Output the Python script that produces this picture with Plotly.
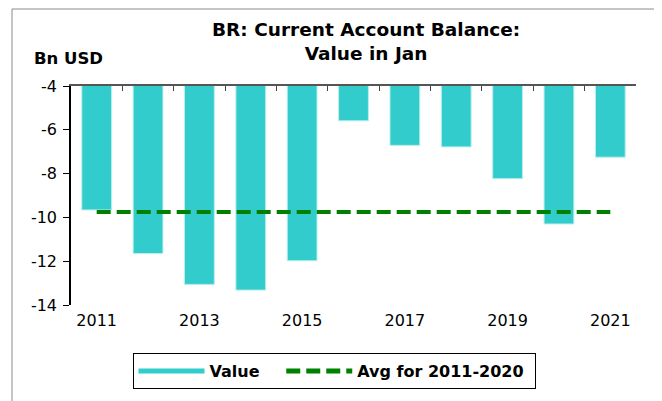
import plotly.graph_objects as go

years = [2011, 2012, 2013, 2014, 2015, 2016, 2017, 2018, 2019, 2020, 2021]
values = [-9.66, -11.65, -13.06, -13.32, -11.98, -5.59, -6.71, -6.78, -8.23, -10.30, -7.25]
avg_value = -9.75
avg_years = [2011, 2021]
avg_line = [avg_value, avg_value]
x_tick_labels = [2011, 2013, 2015, 2017, 2019, 2021]
y_ticks = [-14, -12, -10, -8, -6, -4]

TEAL = "#33CCCC"
GREEN = "#008000"
FONT = "DejaVu Sans, Arial, sans-serif"

OFF = 8  # page body margin offset
W, H = 662 - OFF, 401 - OFF
L = 71 - OFF
T = 86 - OFF
R = W - (636 - OFF)
B = H - (305 - OFF)
pw, ph = W - L - R, H - T - B


def px(x):
    return (x - OFF - L) / pw


def py(y):
    return (H - B - (y - OFF)) / ph


fig = go.Figure()

fig.add_trace(go.Bar(
    x=years, y=values, width=0.58,
    marker=dict(color=TEAL, line=dict(color="#B8EEEE", width=1)),
    showlegend=False, xaxis="x", yaxis="y",
))

# legend proxy for bars
fig.add_trace(go.Scatter(
    x=[None], y=[None], mode="lines", name="Value\u00a0\u00a0\u00a0",
    line=dict(color=TEAL, width=8), xaxis="x", yaxis="y",
))

fig.add_trace(go.Scatter(
    x=avg_years, y=avg_line, mode="lines", name="Avg for 2011-2020\u00a0",
    line=dict(color=GREEN, width=4, dash="14px,6px"),
    xaxis="x2", yaxis="y",
))

fig.update_layout(
    width=W, height=H,
    margin=dict(l=L, r=R, t=T, b=B),
    paper_bgcolor="white", plot_bgcolor="white",
    font=dict(family=FONT, size=16, color="black"),
    xaxis=dict(
        range=[2010.5, 2021.5], tickvals=x_tick_labels,
        ticktext=[str(v) for v in x_tick_labels],
        showline=False, ticks="", showgrid=False, zeroline=False,
        tickfont=dict(size=16), ticklabelstandoff=4,
    ),
    xaxis2=dict(
        range=[2010.5, 2021.5], overlaying="x", side="top",
        tickvals=[y + 0.5 for y in years[:-1]] + [2021.5],
        showticklabels=False, ticks="inside", ticklen=5,
        tickcolor="#444", showline=True, linecolor="#555", linewidth=1.5,
        showgrid=False, zeroline=False,
    ),
    yaxis=dict(
        range=[-14, -4], tickvals=y_ticks,
        ticktext=[str(v) for v in y_ticks],
        showline=True, linecolor="black", linewidth=1.5,
        ticks="outside", ticklen=6, tickcolor="black",
        showgrid=False, zeroline=False,
        tickfont=dict(size=16), ticklabelstandoff=3,
    ),
    legend=dict(
        orientation="h", x=px(334), y=py(371),
        xanchor="center", yanchor="middle",
        bordercolor="black", borderwidth=1,
        font=dict(size=16, family=FONT, weight="bold"),
        itemwidth=66, itemsizing="constant",
    ),
    annotations=[
        dict(text="<b>BR: Current Account Balance:<br>Value in Jan</b>",
             xref="paper", yref="paper", x=px(366), y=py(41),
             xanchor="center", yanchor="middle", showarrow=False,
             font=dict(size=18.5, family=FONT)),
        dict(text="<b>Bn USD</b>", xref="paper", yref="paper",
             x=px(32), y=py(59), xanchor="left", yanchor="middle",
             showarrow=False, font=dict(size=16.5, family=FONT)),
    ],
    shapes=[
        dict(type="rect", xref="paper", yref="paper",
             x0=px(12), x1=px(658.5), y0=py(410), y1=py(9),
             line=dict(color="#8a8a8a", width=1), layer="below"),
    ],
)

fig.write_html("out.html")
